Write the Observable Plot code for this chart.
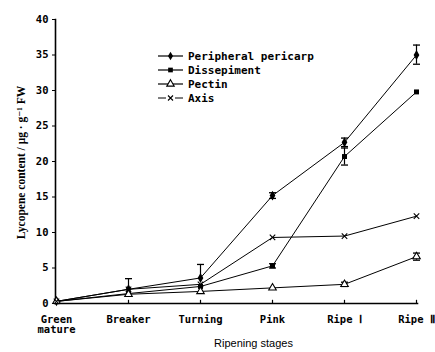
<!DOCTYPE html>
<html><head><meta charset="utf-8">
<script src="https://cdn.jsdelivr.net/npm/d3@7"></script>
<script src="https://cdn.jsdelivr.net/npm/@observablehq/plot@0.6"></script>
<style>
body{margin:0;background:#fff;}
#chart{position:relative;width:435px;height:352px;}
</style></head>
<body><div id="chart"></div>
<script>
const stages = ["Green\nmature","Breaker","Turning","Pink","Ripe Ⅰ","Ripe Ⅱ"];
const seriesNames = ["Peripheral pericarp","Dissepiment","Pectin","Axis"];
const peripheral = [0.3, 2.0, 3.6, 15.2, 22.7, 35.0];
const dissepiment = [0.3, 1.4, 2.4, 5.3, 20.7, 29.8];
const pectin = [0.3, 1.3, 1.7, 2.2, 2.7, 6.6];
const axisPart = [0.3, 2.0, 2.7, 9.3, 9.5, 12.3];
const peripheralErrLow = [0, 0, 0, 0.4, 0.6, 1.3];
const peripheralErrHigh = [0, 1.5, 1.9, 0.4, 0.6, 1.4];
const dissepimentErr = [0, 0, 0, 0.3, 1.2, 0];
const pectinErr = [0, 0, 0, 0, 0.3, 0.5];
const yTicks = [0,5,10,15,20,25,30,35,40];

const values = [peripheral, dissepiment, pectin, axisPart];
const lows = [peripheralErrLow, dissepimentErr, pectinErr, stages.map(() => 0)];
const highs = [peripheralErrHigh, dissepimentErr, pectinErr, stages.map(() => 0)];
const rows = [];
seriesNames.forEach((s, i) => stages.forEach((st, j) => rows.push({
  series: s, stage: st, value: values[i][j],
  lo: values[i][j] - lows[i][j], hi: values[i][j] + highs[i][j],
  hasErr: lows[i][j] > 0 || highs[i][j] > 0, hasLo: lows[i][j] > 0
})));
const errRows = rows.filter(d => d.hasErr);
const cap = {draw(ctx){ ctx.moveTo(-3.5, 0); ctx.lineTo(3.5, 0); }};
const symbolOf = {"Peripheral pericarp": "diamond", "Dissepiment": "square", "Pectin": "triangle", "Axis": "times"};
const mono = "'DejaVu Sans Mono', 'Liberation Mono', monospace";

const plot = Plot.plot({
  width: 435, height: 352,
  marginLeft: 55, marginRight: 18, marginTop: 19, marginBottom: 49,
  style: {fontFamily: mono, fontSize: "10.5px", fontWeight: "bold", color: "#000", background: "#fff"},
  x: {type: "point", domain: stages, padding: 0},
  y: {domain: [0, 40]},
  marks: [
    Plot.axisY({ticks: yTicks, tickSize: 3, tickPadding: 4, label: null, stroke: "#000"}),
    Plot.axisX({tickSize: 0, tickPadding: 12, label: null, textAnchor: "middle", lineAnchor: "top"}),
    Plot.ruleX(stages.slice(1), {x: d => d, y1: 0, y2: 0.45, stroke: "#000", strokeWidth: 1.2}),
    Plot.frame({anchor: "left", stroke: "#000", strokeWidth: 1.6}),
    Plot.frame({anchor: "bottom", stroke: "#000", strokeWidth: 1.6}),
    Plot.line(rows, {x: "stage", y: "value", z: "series", stroke: "#000", strokeWidth: 1}),
    Plot.ruleX(errRows, {x: "stage", y1: "lo", y2: "hi", stroke: "#000", strokeWidth: 1.2}),
    Plot.dot(errRows, {x: "stage", y: "hi", symbol: () => cap, r: 3, stroke: "#000", strokeWidth: 1.3}),
    Plot.dot(errRows.filter(d => d.hasLo), {x: "stage", y: "lo", symbol: () => cap, r: 3, stroke: "#000", strokeWidth: 1.3}),
    Plot.dot(rows.filter(d => d.series === "Peripheral pericarp"), {x: "stage", y: "value", symbol: "diamond", r: 3, fill: "#000"}),
    Plot.dot(rows.filter(d => d.series === "Dissepiment"), {x: "stage", y: "value", symbol: "square", r: 2.8, fill: "#000"}),
    Plot.dot(rows.filter(d => d.series === "Pectin"), {x: "stage", y: "value", symbol: "triangle", r: 2.8, fill: "#fff", stroke: "#000", strokeWidth: 1.1}),
    Plot.dot(rows.filter(d => d.series === "Axis"), {x: "stage", y: "value", symbol: "times", r: 2.6, stroke: "#000", strokeWidth: 1.1}),
    Plot.text(["Ripening stages"], {frameAnchor: "bottom", dx: 17, dy: 43, fontFamily: "'Liberation Sans', Arial, sans-serif", fontWeight: "normal", fontSize: 11}),
    Plot.text(["Lycopene content / μg · g⁻¹ FW"], {frameAnchor: "left", textAnchor: "middle", rotate: -90, dx: -34, dy: 1, fontFamily: "'Liberation Serif', 'DejaVu Serif', serif", fontWeight: "bold", fontSize: 11.5})
  ]
});
document.getElementById("chart").appendChild(plot);

// legend
const svg = d3.select(plot);
const lg = svg.append("g").attr("transform", "translate(158,56)");
const syms = {diamond: d3.symbolDiamond, square: d3.symbolSquare, triangle: d3.symbolTriangle, times: d3.symbolTimes};
seriesNames.forEach((s, i) => {
  const g = lg.append("g").attr("transform", `translate(0,${i * 14})`);
  const sym = symbolOf[s];
  if (sym === "times") {
    g.append("line").attr("x1", 0).attr("x2", 8).attr("y1", 0).attr("y2", 0).attr("stroke", "#000");
    g.append("line").attr("x1", 17).attr("x2", 25).attr("y1", 0).attr("y2", 0).attr("stroke", "#000");
  } else {
    g.append("line").attr("x1", 0).attr("x2", 25).attr("y1", 0).attr("y2", 0).attr("stroke", "#000").attr("stroke-width", 1.2);
  }
  const size = sym === "triangle" ? 24 : sym === "times" ? 18 : 22;
  g.append("path").attr("transform", "translate(12.5,0)")
    .attr("d", d3.symbol(syms[sym], size)())
    .attr("fill", sym === "triangle" ? "#fff" : sym === "times" ? "none" : "#000")
    .attr("stroke", "#000").attr("stroke-width", sym === "diamond" || sym === "square" ? 0 : 1.1);
  g.append("text").attr("x", 30).attr("y", 0).attr("dy", "0.35em")
    .attr("text-anchor", "start")
    .attr("font-family", mono).attr("font-weight", "bold").attr("font-size", 11)
    .text(s);
});
</script></body></html>
